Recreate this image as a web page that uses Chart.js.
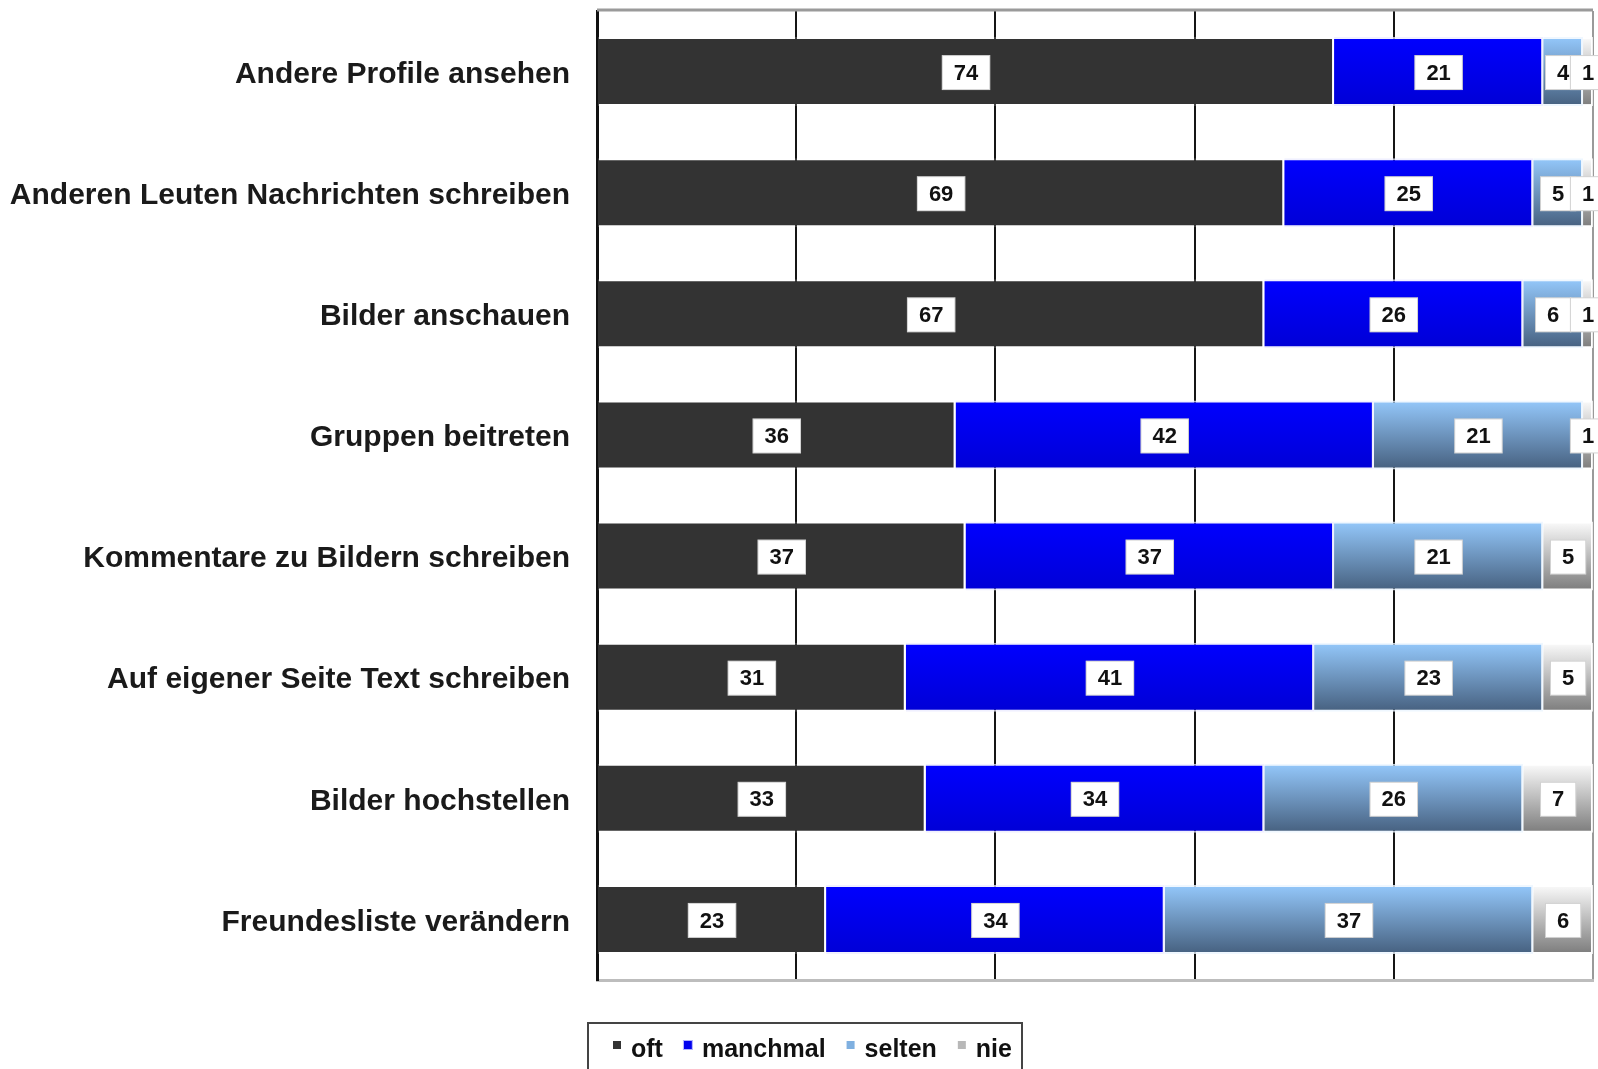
<!DOCTYPE html>
<html>
<head>
<meta charset="utf-8">
<script src="https://cdn.jsdelivr.net/npm/chart.js@4"></script>
<style>
  html, body { margin: 0; padding: 0; background: #ffffff; }
  #wrap { width: 1598px; height: 1069px; }
</style>
</head>
<body>
<div id="wrap"><canvas id="myCanvas" width="1598" height="1069"></canvas></div>
<script>
let categories = [
    "Andere Profile ansehen",
    "Anderen Leuten Nachrichten schreiben",
    "Bilder anschauen",
    "Gruppen beitreten",
    "Kommentare zu Bildern schreiben",
    "Auf eigener Seite Text schreiben",
    "Bilder hochstellen",
    "Freundesliste verändern"
]
let seriesNames = ["oft", "manchmal", "selten", "nie"]
let oftValues = [74, 69, 67, 36, 37, 31, 33, 23]
let manchmalValues = [21, 25, 26, 42, 37, 41, 34, 34]
let seltenValues = [4, 5, 6, 21, 21, 23, 26, 37]
let nieValues = [1, 1, 1, 1, 5, 5, 7, 6]
let xTicks = [0, 20, 40, 60, 80, 100]

const BAR_PCT = 0.57
const labelFont = '700 22px "Liberation Sans Narrow", "Arial Narrow", "Liberation Sans", Arial, sans-serif'
const axisFont = { family: '"Liberation Sans", Arial, sans-serif', size: 30, weight: 'bold' }

// vertical gradient over each bar's height
function barGradient(top, bottom) {
    return function (context) {
        const chart = context.chart
        const yScale = chart.scales.y
        if (!yScale || context.dataIndex === undefined) return top
        const yc = yScale.getPixelForValue(context.dataIndex)
        const half = (yScale.height / categories.length) * BAR_PCT / 2
        if (!isFinite(yc) || !isFinite(half) || half <= 0) return top
        const g = chart.ctx.createLinearGradient(0, yc - half, 0, yc + half)
        g.addColorStop(0, top)
        g.addColorStop(1, bottom)
        return g
    }
}

const valueLabels = {
    id: 'valueLabels',
    afterDatasetsDraw(chart) {
        const ctx = chart.ctx
        ctx.save()
        ctx.font = labelFont
        ctx.textAlign = 'center'
        ctx.textBaseline = 'middle'
        chart.data.datasets.forEach((ds, d) => {
            const meta = chart.getDatasetMeta(d)
            meta.data.forEach((bar, i) => {
                const p = bar.getProps(['x', 'y', 'base'], true)
                const cx = (p.x + p.base) / 2
                const txt = String(ds.data[i])
                const w = ctx.measureText(txt).width + 24
                const h = 35
                const cy = p.y + 1
                ctx.fillStyle = '#ffffff'
                ctx.fillRect(cx - w / 2, cy - h / 2, w, h)
                ctx.strokeStyle = 'rgba(0,0,0,0.18)'
                ctx.lineWidth = 1
                ctx.strokeRect(cx - w / 2 + 0.5, cy - h / 2 + 0.5, w - 1, h - 1)
                ctx.fillStyle = '#111111'
                ctx.fillText(txt, cx, cy + 1)
            })
        })
        ctx.restore()
    }
}

const frameAndLegend = {
    id: 'frameAndLegend',
    afterDraw(chart) {
        const ctx = chart.ctx
        const a = chart.chartArea
        ctx.save()
        // top border
        ctx.strokeStyle = '#9a9a9a'
        ctx.lineWidth = 3
        ctx.beginPath()
        ctx.moveTo(a.left, a.top - 1)
        ctx.lineTo(a.right, a.top - 1)
        ctx.stroke()

        // legend box
        ctx.strokeStyle = '#444444'
        ctx.lineWidth = 2
        ctx.strokeRect(588, 1023, 434, 60)

        const markers = ['#333333', '#0000ee', '#7fb0e0', '#b8b8b8']
        ctx.font = '700 25px "Liberation Sans", Arial, sans-serif'
        ctx.textBaseline = 'middle'
        let x = 613
        const yMid = 1050
        seriesNames.forEach((name, k) => {
            ctx.fillStyle = markers[k]
            ctx.fillRect(x, yMid - 9, 8, 8)
            if (k === 1) {
                ctx.strokeStyle = '#b0b0ff'
                ctx.lineWidth = 1
                ctx.strokeRect(x - 0.5, yMid - 9.5, 9, 9)
            }
            x += 18
            ctx.fillStyle = '#111111'
            ctx.fillText(name, x, yMid)
            x += ctx.measureText(name).width + 21
        })
        ctx.restore()
    }
}

new Chart("myCanvas", {
    type: "bar",
    data: {
        labels: categories,
        datasets: [
            {
                label: seriesNames[0],
                data: oftValues,
                backgroundColor: '#333333',
                borderColor: 'rgba(255,255,255,0.2)',
                borderWidth: 2
            },
            {
                label: seriesNames[1],
                data: manchmalValues,
                backgroundColor: barGradient('#0000ff', '#0000d6'),
                borderColor: 'rgba(235,235,255,0.75)',
                borderWidth: 2
            },
            {
                label: seriesNames[2],
                data: seltenValues,
                backgroundColor: barGradient('#94c8fb', '#46607f'),
                borderColor: 'rgba(235,245,255,0.8)',
                borderWidth: 2
            },
            {
                label: seriesNames[3],
                data: nieValues,
                backgroundColor: barGradient('#fbfbfb', '#7c7c7c'),
                borderColor: 'rgba(255,255,255,0.8)',
                borderWidth: 2
            }
        ]
    },
    options: {
        indexAxis: 'y',
        responsive: false,
        animation: false,
        layout: { autoPadding: false, padding: { top: 11, right: 5, bottom: 89, left: 0 } },
        datasets: {
            bar: { barPercentage: BAR_PCT, categoryPercentage: 1 }
        },
        scales: {
            x: {
                stacked: true,
                min: 0,
                max: 100,
                afterBuildTicks: (scale) => { scale.ticks = xTicks.map(v => ({ value: v })) },
                afterFit: (scale) => { scale.height = 0 },
                ticks: { display: false },
                grid: {
                    drawTicks: false,
                    lineWidth: 2,
                    color: (c) => (c.tick && c.tick.value === 100) ? '#9a9a9a' : '#151515'
                },
                border: { display: true, color: '#bdbdbd', width: 3 }
            },
            y: {
                stacked: true,
                afterFit: (scale) => {
                    scale.width = 597
                    scale.paddingTop = 0
                    scale.paddingBottom = 0
                },
                ticks: { padding: 27, labelOffset: 3, color: '#1a1a1a', font: axisFont },
                grid: { display: false, drawTicks: false },
                border: { display: true, color: '#111111', width: 3 }
            }
        },
        plugins: {
            legend: { display: false },
            tooltip: { enabled: false }
        }
    },
    plugins: [valueLabels, frameAndLegend]
})
</script>
</body>
</html>
